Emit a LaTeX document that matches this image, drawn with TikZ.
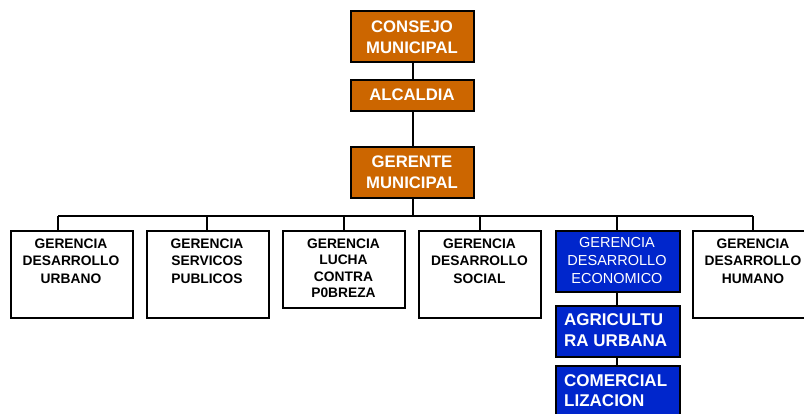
\documentclass[tikz,border=0pt]{standalone}
\usepackage{fontspec}
\setmainfont{Liberation Sans}
\definecolor{orgbox}{RGB}{204,102,0}
\definecolor{bluebox}{RGB}{0,38,204}
\begin{document}
\begin{tikzpicture}[x=1pt,y=-1pt,
  orgbox/.style={draw=black,line width=1.5pt,fill=orgbox,minimum width=123pt,anchor=north west,inner sep=0pt},
  gerbox/.style={draw=black,line width=2pt,fill=white,minimum width=122pt,anchor=north west,inner sep=0pt},
  bluebx/.style={draw=black,line width=1.5pt,fill=bluebox,minimum width=124pt,anchor=north west,inner sep=0pt},
  otext/.style={text=white,font=\fontsize{16.7}{21}\selectfont\bfseries,align=center,inner sep=0pt},
  gtext/.style={text=black,font=\fontsize{13.8}{17.5}\selectfont\bfseries,align=center,inner sep=0pt},
  btext/.style={text=white,font=\fontsize{14.5}{18}\selectfont,align=center,inner sep=0pt},
  bbtext/.style={text=white,font=\fontsize{17}{20.5}\selectfont\bfseries,align=left,inner sep=0pt,anchor=west},
  conn/.style={line width=2pt}
]
\useasboundingbox (0,0) rectangle (804,413);
\clip (0,0) rectangle (804,413);
\fill[white] (0,0) rectangle (804,413);

% top chain
\node[orgbox,minimum height=51pt] (cons) at (350,10) {};
\node[orgbox,minimum height=31pt] (alc) at (350,79) {};
\node[orgbox,minimum height=51pt] (ger) at (350,146) {};
\node[otext] (tcons) at (412,37.5) {CONSEJO\\MUNICIPAL};
\node[otext] (talc) at (412,95) {ALCALDIA};
\node[otext] (tger) at (412,172.5) {GERENTE\\MUNICIPAL};

% second row boxes
\node[gerbox,minimum height=87pt] (g1) at (10,230) {};
\node[gerbox,minimum height=87pt] (g2) at (146,230) {};
\node[gerbox,minimum height=77pt] (g3) at (282,230) {};
\node[gerbox,minimum height=87pt] (g4) at (418,230) {};
\node[bluebx,minimum height=61pt] (g5) at (555,230) {};
\node[gerbox,minimum height=87pt] (g6) at (692,230) {};
\node[bluebx,minimum height=51pt] (agr) at (555,305) {};
\node[bluebx,minimum height=60pt] (com) at (555,365) {};

\node[gtext] (t1) at (71,261) {GERENCIA\\DESARROLLO\\URBANO};
\node[gtext] (t2) at (207,261) {GERENCIA\\SERVICOS\\PUBLICOS};
\node[gtext,font=\fontsize{13.8}{16.5}\selectfont\bfseries] (t3) at (343.5,268) {GERENCIA\\LUCHA\\CONTRA\\P0BREZA};
\node[gtext] (t4) at (479.5,261) {GERENCIA\\DESARROLLO\\SOCIAL};
\node[btext] (t5) at (617,260.5) {GERENCIA\\DESARROLLO\\ECONOMICO};
\node[gtext] (t6) at (753,261) {GERENCIA\\DESARROLLO\\HUMANO};
\node[bbtext] (tagr) at (564,330) {AGRICULTU\\RA URBANA};
\node[bbtext] (tcom) at (564,390.5) {COMERCIAL\\LIZACION};

% connectors
\coordinate (bus) at (413,216);
\coordinate (b1) at (58,216);
\coordinate (b2) at (207,216);
\coordinate (b3) at (344,216);
\coordinate (b4) at (480,216);
\coordinate (b5) at (617,216);
\coordinate (b6) at (753,216);
\draw[conn] (cons.south -| bus) -- (alc.north -| bus);
\draw[conn] (alc.south -| bus) -- (ger.north -| bus);
\draw[conn] (ger.south -| bus) -- (bus);
\draw[conn] (b1) -- (b6);
\draw[conn] (b1) -- (b1 |- g1.north);
\draw[conn] (b2) -- (b2 |- g2.north);
\draw[conn] (b3) -- (b3 |- g3.north);
\draw[conn] (b4) -- (b4 |- g4.north);
\draw[conn] (b5) -- (b5 |- g5.north);
\draw[conn] (b6) -- (b6 |- g6.north);
\draw[conn] (g5.south -| b5) -- (agr.north -| b5);
\draw[conn] (agr.south -| b5) -- (com.north -| b5);
\end{tikzpicture}
\end{document}
